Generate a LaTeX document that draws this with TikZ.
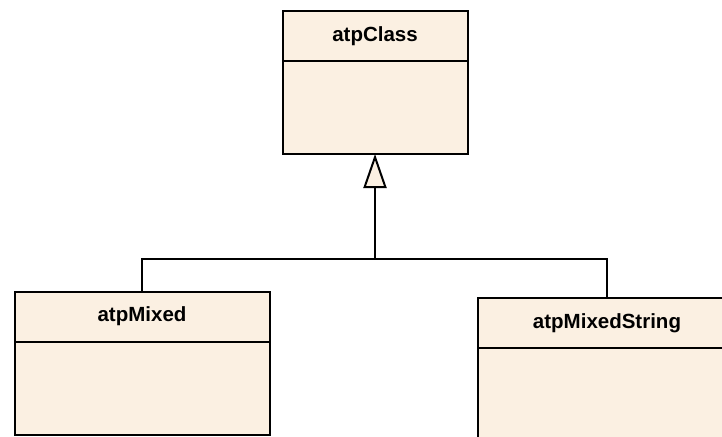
\documentclass[tikz,border=0pt]{standalone}
\usepackage{fontspec}
\setmainfont{Liberation Sans}
\usetikzlibrary{positioning,arrows.meta}
\definecolor{classfill}{RGB}{251,240,226}

\begin{document}
\begin{tikzpicture}[x=1pt,y=-1pt,
		namenode/.style={rectangle, draw=black, fill=classfill, line width=2pt, outer sep=0pt, inner sep=0pt, minimum height=50pt, font=\fontsize{20.5}{24}\selectfont\bfseries},
		bodynode/.style={rectangle, draw=black, fill=classfill, line width=2pt, outer sep=0pt, inner sep=0pt, minimum height=93pt},
		]
		\useasboundingbox (0,0) rectangle (722,436);
		\clip (0,0) rectangle (722,436);
		%Nodes
		\node[namenode, minimum width=185pt] (c1)  at (375,36)    {atpClass};
		\node[bodynode, minimum width=185pt] (c1b) [below=0pt of c1] {};
		\node[namenode, minimum width=255pt] (c2)  at (142,316.5) {atpMixed};
		\node[bodynode, minimum width=255pt] (c2b) [below=0pt of c2] {};
		\node[namenode, minimum width=258pt] (c3)  at (607,323)   {atpMixedString};
		\node[bodynode, minimum width=258pt] (c3b) [below=0pt of c3] {};
		\coordinate (bus) at (375,259);
		
		%Lines
		\draw[line width=2pt] (c2.north) |- (bus) -| (c3.north);
		\draw[line width=2pt, -{Triangle[length=34pt, width=23pt, fill=classfill]}] (bus) -- (c1b.south);
\end{tikzpicture}
\end{document}
